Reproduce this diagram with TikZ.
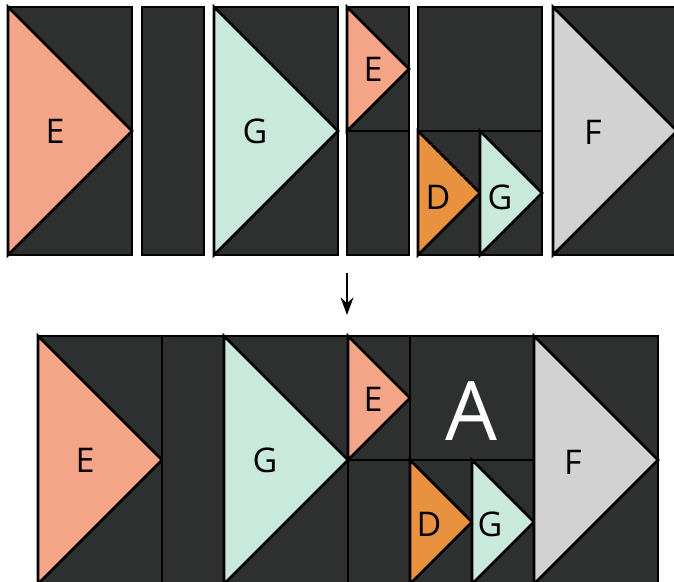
\documentclass[tikz,border=0pt]{standalone}
\usepackage{fontspec}
\setmainfont{Open Sans}
\usepackage{xcolor}
\usetikzlibrary{arrows.meta,positioning,calc}

\definecolor{charcoal}{HTML}{2E302F}
\definecolor{salmon}{HTML}{F4A487}
\definecolor{mint}{HTML}{C9E9DD}
\definecolor{amber}{HTML}{E8913F}
\definecolor{silver}{HTML}{D2D2D2}

\begin{document}
\begin{tikzpicture}[
    x=0.03cm, y=-0.03cm,
    patch/.style={draw=black, line width=2.3pt, fill=charcoal},
    goose/.style={draw=black, line width=2.3pt, line join=miter},
    lbl/.style={font=\fontsize{29}{34}\selectfont, inner sep=0pt},
    big/.style={font=\fontsize{70}{80}\selectfont, text=white, inner sep=0pt},
    arrow/.style={-{Stealth[length=15pt, width=11pt]}, line width=1.7pt}
]
    \useasboundingbox (0,0) rectangle (674,581);

    % top row: the separate units
    \draw[patch] (8,7) rectangle ++(124,248);
    \draw[goose, fill=salmon] (8,7) -- (132,131) -- (8,255) -- cycle;
    \draw[patch] (142,7) rectangle ++(62,248);
    \draw[patch] (214,7) rectangle ++(124,248);
    \draw[goose, fill=mint] (214,7) -- (338,131) -- (214,255) -- cycle;
    \draw[patch] (347,7) rectangle ++(62,124);
    \draw[goose, fill=salmon] (347,7) -- (409,69) -- (347,131) -- cycle;
    \draw[patch] (347,131) rectangle ++(62,124);
    \draw[patch] (418,7) rectangle ++(124,124);
    \draw[patch] (418,131) rectangle ++(62,124);
    \draw[goose, fill=amber] (418,131) -- (480,193) -- (418,255) -- cycle;
    \draw[patch] (480,131) rectangle ++(62,124);
    \draw[goose, fill=mint] (480,131) -- (542,193) -- (480,255) -- cycle;
    \draw[patch] (553,7) rectangle ++(124,248);
    \draw[goose, fill=silver] (553,7) -- (677,131) -- (553,255) -- cycle;

    \node[lbl] (topE) at (55,131) {E};
    \node[lbl] (topG) at (255,131) {G};
    \node[lbl] (tope) at (373,69) {E};
    \node[lbl] (topD) at (438,197) {D};
    \node[lbl] (topg) at (500,197) {G};
    \node[lbl] (topF) at (593,132) {F};

    % arrow between rows
    \coordinate (from) at (347,273);
    \coordinate (to) at (347,315);
    \draw[arrow] (from) -- (to);

    % bottom row: units sewn together
    \draw[patch] (38,336) rectangle ++(124,248);
    \draw[goose, fill=salmon] (38,336) -- (162,460) -- (38,584) -- cycle;
    \draw[patch] (162,336) rectangle ++(62,248);
    \draw[patch] (224,336) rectangle ++(124,248);
    \draw[goose, fill=mint] (224,336) -- (348,460) -- (224,584) -- cycle;
    \draw[patch] (348,336) rectangle ++(62,124);
    \draw[goose, fill=salmon] (348,336) -- (410,398) -- (348,460) -- cycle;
    \draw[patch] (348,460) rectangle ++(62,124);
    \draw[patch] (410,336) rectangle ++(124,124);
    \draw[patch] (410,460) rectangle ++(62,124);
    \draw[goose, fill=amber] (410,460) -- (472,522) -- (410,584) -- cycle;
    \draw[patch] (472,460) rectangle ++(62,124);
    \draw[goose, fill=mint] (472,460) -- (534,522) -- (472,584) -- cycle;
    \draw[patch] (534,336) rectangle ++(124,248);
    \draw[goose, fill=silver] (534,336) -- (658,460) -- (534,584) -- cycle;

    \node[lbl] (botE) at (85,460) {E};
    \node[lbl] (botG) at (265,460) {G};
    \node[lbl] (bote) at (373,399) {E};
    \node[big] (botA) at (471,411) {A};
    \node[lbl] (botD) at (429,524) {D};
    \node[lbl] (botg) at (490,524) {G};
    \node[lbl] (botF) at (573,462) {F};
\end{tikzpicture}
\end{document}
